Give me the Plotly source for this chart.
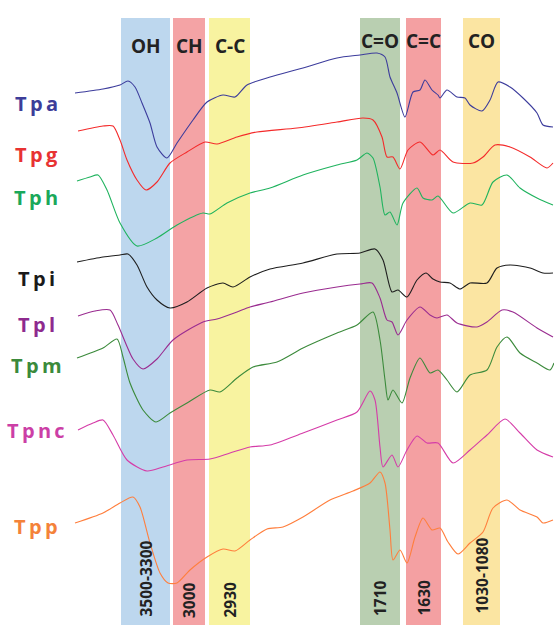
import plotly.graph_objects as go

# ---- series (x along the spectrum, y = stacked offset) ----
names = ["Tpa", "Tpg", "Tph", "Tpi", "Tpl", "Tpm", "Tpnc", "Tpp"]

tpa_x = [75, 103, 120, 128, 135, 142, 150, 157, 167, 177, 193, 207, 223, 235, 247, 270, 303, 337, 360, 377, 385, 390, 397, 405, 413, 420, 425, 432, 438, 440, 447, 457, 465, 470, 482, 490, 498, 510, 523, 537, 543, 553]
tpa_y = [93, 89, 85, 81, 87, 103, 123, 147, 158, 143, 120, 102, 95, 97, 85, 77, 68, 58, 55, 53, 57, 77, 93, 117, 92, 90, 80, 90, 95, 98, 90, 97, 98, 105, 111, 100, 82, 87, 98, 113, 125, 127]

tpg_x = [78, 103, 113, 120, 127, 137, 146, 157, 170, 187, 205, 217, 237, 257, 297, 337, 363, 373, 382, 387, 393, 400, 408, 420, 433, 440, 453, 473, 483, 495, 510, 530, 547, 553]
tpg_y = [131, 126, 126, 140, 160, 180, 190, 182, 163, 152, 142, 144, 137, 132, 128, 122, 118, 120, 137, 157, 157, 169, 150, 142, 155, 150, 162, 163, 157, 145, 147, 157, 168, 163]

tph_x = [77, 90, 98, 107, 120, 137, 157, 177, 203, 210, 227, 250, 270, 303, 337, 357, 367, 373, 380, 385, 390, 397, 403, 417, 423, 432, 438, 453, 470, 482, 493, 507, 520, 537, 553]
tph_y = [181, 177, 175, 190, 223, 246, 238, 225, 213, 214, 203, 193, 188, 175, 165, 160, 153, 158, 187, 215, 212, 225, 203, 188, 198, 200, 196, 213, 203, 205, 182, 175, 188, 198, 205]

tpi_x = [77, 103, 120, 128, 137, 147, 157, 170, 187, 207, 223, 233, 250, 270, 303, 337, 360, 375, 383, 392, 398, 407, 417, 426, 433, 440, 450, 460, 470, 487, 497, 510, 530, 543, 553]
tpi_y = [262, 257, 255, 254, 265, 287, 300, 308, 302, 288, 283, 287, 277, 269, 263, 254, 253, 249, 260, 292, 290, 297, 280, 273, 279, 282, 283, 289, 283, 283, 268, 265, 268, 273, 273]

tpl_x = [78, 95, 110, 118, 133, 143, 157, 173, 203, 217, 237, 250, 270, 303, 337, 360, 372, 380, 387, 392, 398, 407, 420, 430, 437, 447, 457, 477, 487, 502, 513, 537, 553]
tpl_y = [316, 311, 310, 325, 359, 369, 359, 340, 322, 319, 312, 307, 302, 293, 287, 284, 283, 298, 320, 322, 335, 320, 307, 315, 318, 315, 323, 327, 322, 310, 312, 328, 337]

tpm_x = [77, 103, 117, 123, 130, 143, 156, 170, 187, 210, 220, 237, 253, 277, 303, 337, 357, 373, 380, 385, 388, 393, 402, 410, 420, 430, 438, 447, 457, 470, 487, 497, 507, 520, 537, 550, 554]
tpm_y = [358, 348, 339, 357, 383, 410, 422, 413, 403, 390, 392, 378, 367, 362, 348, 333, 325, 312, 340, 380, 400, 390, 403, 378, 358, 373, 370, 380, 392, 375, 370, 347, 337, 353, 363, 370, 363]

tpnc_x = [78, 93, 103, 113, 127, 147, 163, 187, 210, 230, 250, 270, 303, 337, 357, 370, 375, 380, 383, 392, 398, 407, 417, 427, 438, 453, 470, 487, 505, 520, 537, 553]
tpnc_y = [430, 423, 420, 435, 460, 471, 467, 460, 459, 453, 447, 445, 433, 420, 412, 391, 400, 447, 467, 455, 467, 450, 436, 443, 443, 463, 450, 435, 419, 433, 450, 457]

tpp_x = [75, 103, 120, 133, 140, 150, 160, 168, 177, 190, 207, 223, 235, 250, 267, 283, 303, 330, 353, 370, 380, 385, 390, 393, 400, 407, 415, 423, 432, 440, 448, 458, 470, 483, 493, 507, 520, 537, 543, 553]
tpp_y = [523, 513, 503, 497, 507, 543, 573, 583, 583, 570, 557, 549, 551, 540, 529, 527, 517, 500, 491, 483, 472, 483, 530, 560, 550, 563, 537, 518, 530, 528, 542, 554, 543, 532, 508, 500, 510, 517, 523, 520]

series_x = [tpa_x, tpg_x, tph_x, tpi_x, tpl_x, tpm_x, tpnc_x, tpp_x]
series_y = [tpa_y, tpg_y, tph_y, tpi_y, tpl_y, tpm_y, tpnc_y, tpp_y]
line_colors = ["#3c3c9c", "#f42a2a", "#1fb35e", "#1e1e1e", "#9a2c90", "#3b8a3b", "#d53ca8", "#ff7e3c"]
label_colors = ["#3d3d99", "#e83232", "#1aa85a", "#1a1a1a", "#8e2a8e", "#3b8a3b", "#cc3fa6", "#f4823a"]
label_y = [103, 154, 197, 278, 324, 365, 430, 526]

# ---- absorption bands ----
band_names = ["OH", "CH", "C-C", "C=O", "C=C", "CO"]
band_wavenumbers = ["3500-3300", "3000", "2930", "1710", "1630", "1030-1080"]
band_lo = [121, 173, 209, 360, 406, 463]
band_hi = [170, 205, 250, 400, 441, 500]
band_colors = ["#bdd7ee", "#f4a3a5", "#f8f3a0", "#b9cfb1", "#f4a0a2", "#fbe5a2"]
band_name_y = [46, 46, 46, 41, 41, 41]
band_num_y = [579, 600, 600, 598, 598, 576]

fig = go.Figure()

for nm, xs, ys, c in zip(names, series_x, series_y, line_colors):
    fig.add_trace(go.Scatter(x=xs, y=ys, mode="lines", name=nm,
                             line=dict(color=c, width=1.1, shape="spline", smoothing=0.7),
                             showlegend=False, hoverinfo="skip"))

shapes = []
for lo, hi, c in zip(band_lo, band_hi, band_colors):
    shapes.append(dict(type="rect", xref="x", yref="y", x0=lo, x1=hi, y0=18, y1=625,
                       fillcolor=c, line=dict(width=0), layer="below"))

annotations = []
for nm, y, c in zip(names, label_y, label_colors):
    annotations.append(dict(x=36, y=y, xref="x", yref="y", text="\u2009".join(nm),
                            showarrow=False, xanchor="center", yanchor="middle",
                            font=dict(family="Open Sans, Arial", size=20, color=c, weight="bold")))
for nm, lo, hi, y in zip(band_names, band_lo, band_hi, band_name_y):
    annotations.append(dict(x=(lo + hi) / 2, y=y, xref="x", yref="y", text=nm,
                            showarrow=False, xanchor="center", yanchor="middle",
                            font=dict(family="Open Sans, Arial", size=19, color="#222222", weight="bold")))
for wn, lo, hi, y in zip(band_wavenumbers, band_lo, band_hi, band_num_y):
    annotations.append(dict(x=(lo + hi) / 2, y=y, xref="x", yref="y", text=wn, textangle=-90,
                            showarrow=False, xanchor="center", yanchor="middle",
                            font=dict(family="Open Sans, Arial", size=15.5, color="#222222", weight="bold")))

fig.update_layout(
    width=554, height=625,
    margin=dict(l=0, r=0, t=0, b=0),
    paper_bgcolor="white", plot_bgcolor="white",
    xaxis=dict(range=[0, 554], visible=False, fixedrange=True),
    yaxis=dict(range=[625, 0], visible=False, fixedrange=True),
    shapes=shapes, annotations=annotations,
)

fig.write_html("out.html", config={"displayModeBar": False},
               post_script="document.body.style.margin='0';document.body.style.overflow='hidden';")
